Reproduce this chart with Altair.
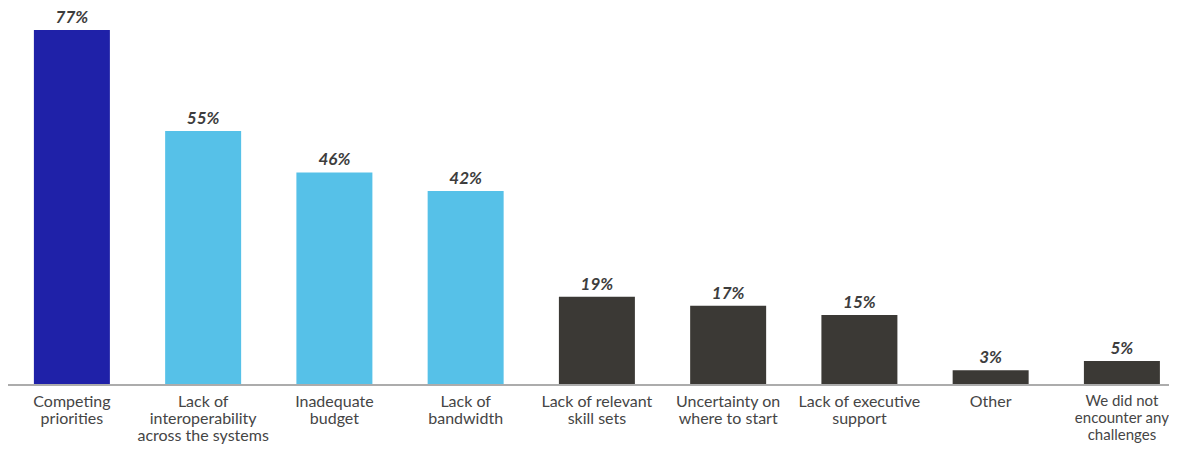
import altair as alt
import pandas as pd

categories = [
    "Competing|priorities",
    "Lack of|interoperability|across the systems",
    "Inadequate|budget",
    "Lack of|bandwidth",
    "Lack of relevant|skill sets",
    "Uncertainty on|where to start",
    "Lack of executive|support",
    "Other",
    "We did not|encounter any|challenges",
]
values = [77, 55, 46, 42, 19, 17, 15, 3, 5]
groups = ["top", "mid", "mid", "mid", "low", "low", "low", "low", "low"]
labels = [f"{v}%" for v in values]

df = pd.DataFrame({"cat": categories, "value": values, "group": groups, "label": labels})

x = alt.X(
    "cat:N",
    sort=None,
    title=None,
    scale=alt.Scale(paddingInner=0.421, paddingOuter=0.1333, align=0.74),
    axis=alt.Axis(
        labelAngle=0,
        ticks=False,
        domain=False,
        labelFont="Lato",
        labelFontSize={
            "condition": {"test": "indexof(datum.label, 'encounter') >= 0", "value": 15},
            "value": 16,
        },
        labelColor="#454545",
        labelLineHeight=17,
        labelPadding=9,
        labelLimit=400,
        labelOverlap=False,
        labelBaseline="top",
        labelExpr="split(datum.label, '|')",
    ),
)
y = alt.Y("value:Q", scale=alt.Scale(domain=[0, 79.6], nice=False), axis=None)

bars = alt.Chart(df).mark_bar().encode(
    x=x,
    y=y,
    color=alt.Color(
        "group:N",
        scale=alt.Scale(domain=["top", "mid", "low"], range=["#1f21a8", "#56c1e8", "#3b3935"]),
        legend=None,
    ),
)

text = alt.Chart(df).mark_text(
    font="Lato",
    fontSize=17,
    fontWeight="bold",
    fontStyle="italic",
    color="#3d3d3d",
    baseline="bottom",
    dy=-3,
).encode(x=x, y=y, text="label:N")

baseline = alt.Chart(df).mark_rule(color="#acacac", strokeWidth=2).encode(
    x=alt.value(0), x2=alt.value(1161), y=alt.value(367)
)

chart = (
    alt.layer(bars, text, baseline)
    .properties(
        width=1161,
        height=366,
        padding={"left": 0, "top": 10, "right": 0, "bottom": 60},
        autosize=alt.AutoSizeParams(type="none"),
    )
    .configure_view(stroke=None)
)

chart.save("out.html", embed_options={"renderer": "svg", "actions": False})
